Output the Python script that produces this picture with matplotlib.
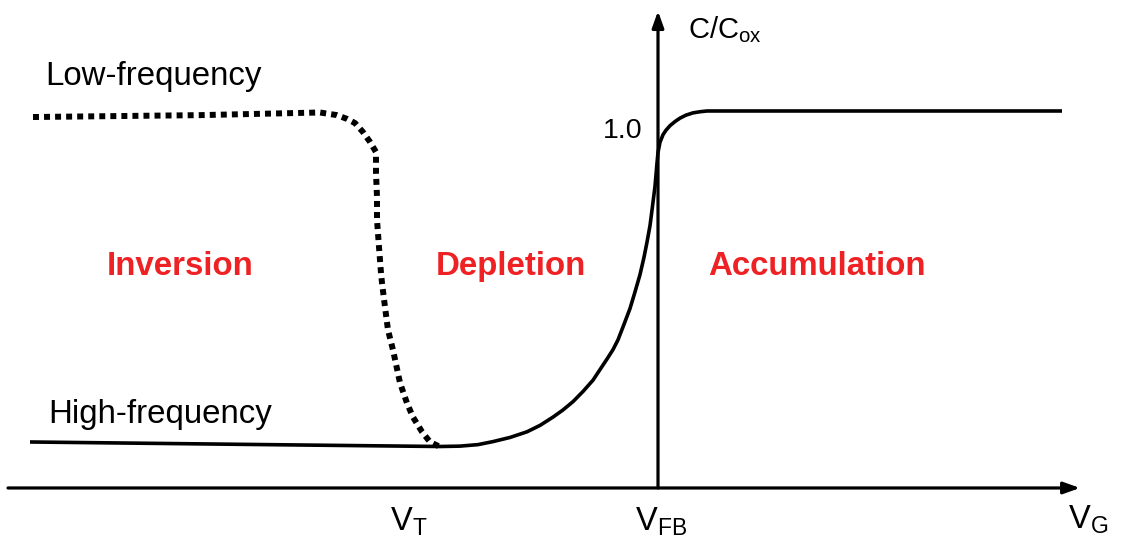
import matplotlib
matplotlib.use("Agg")
import matplotlib.pyplot as plt

plt.rcParams["font.family"] = ["Liberation Sans", "DejaVu Sans"]
plt.rcParams["mathtext.default"] = "regular"

# Gate voltage (V_FB at 0) and normalised capacitance C/Cox
hf_v = [-6.28, -3.58, -2.18, -1.98, -1.80, -1.65, -1.48, -1.31, -1.18, -1.05,
        -0.95, -0.85, -0.75, -0.65, -0.58, -0.51, -0.45, -0.40, -0.34, -0.28,
        -0.23, -0.18, -0.14, -0.11, -0.08, -0.06, -0.03, -0.01, 0.00, 0.02,
        0.05, 0.08, 0.12, 0.17, 0.22, 0.28, 0.35, 0.42, 0.49, 4.04]
hf_c = [0.122, 0.114, 0.110, 0.111, 0.115, 0.123, 0.134, 0.149, 0.166, 0.188,
        0.207, 0.229, 0.256, 0.286, 0.314, 0.342, 0.367, 0.393, 0.434, 0.476,
        0.520, 0.566, 0.612, 0.652, 0.696, 0.737, 0.800, 0.862, 0.890, 0.917,
        0.937, 0.949, 0.961, 0.972, 0.981, 0.989, 0.995, 0.998, 1.000, 1.000]

lf_v = [-6.25, -4.58, -3.38, -3.21, -3.11, -3.03, -2.95, -2.88, -2.82, -2.82,
        -2.81, -2.81, -2.79, -2.77, -2.76, -2.73, -2.70, -2.65, -2.58, -2.51,
        -2.45, -2.36, -2.28, -2.18]
lf_c = [0.984, 0.989, 0.996, 0.989, 0.979, 0.968, 0.944, 0.918, 0.891, 0.836,
        0.772, 0.711, 0.639, 0.570, 0.544, 0.480, 0.419, 0.366, 0.279, 0.225,
        0.188, 0.149, 0.122, 0.109]

regions = ["Inversion", "Depletion", "Accumulation"]
region_v = [-4.78, -1.47, 1.59]
curve_labels = ["Low-frequency", "High-frequency"]
tick_labels = ["V$_{T}$", "V$_{FB}$", "V$_{G}$"]

RED = "#EE2224"

fig = plt.figure(figsize=(11.21, 5.40), dpi=100)
ax = fig.add_axes([0, 0, 1, 1])
ax.set_xlim(-6.58, 4.63)
ax.set_ylim(-0.138, 1.2944)
ax.axis("off")

# axes with arrowheads
arrow = dict(arrowstyle="-|>,head_length=0.7,head_width=0.25", lw=2.3,
             color="black", mutation_scale=14, shrinkA=0, shrinkB=0)
ax.annotate("", xy=(4.22, 0), xytext=(-6.50, 0), arrowprops=arrow)
ax.annotate("", xy=(0, 1.265), xytext=(0, 0), arrowprops=arrow)

# C-V curves
ax.plot(hf_v, hf_c, color="black", lw=2.6, solid_capstyle="butt",
        solid_joinstyle="round")
ax.plot(lf_v, lf_c, color="black", lw=4.3, linestyle=(0, (1, 0.85)),
        dash_capstyle="butt")

# labels
ax.text(-6.13, 1.069, curve_labels[0], fontsize=23.8, ha="left", va="baseline")
ax.text(-6.10, 0.172, curve_labels[1], fontsize=23.8, ha="left", va="baseline")
ax.text(0.30, 1.194, "C/C$_{ox}$", fontsize=21, ha="left", va="baseline")
ax.text(-0.15, 0.928, "1.0", fontsize=20.5, ha="right", va="baseline")

for name, v in zip(regions, region_v):
    ax.text(v, 0.565, name, fontsize=23.8, fontweight="bold", color=RED,
            ha="center", va="baseline")

ax.text(-2.68, -0.112, tick_labels[0], fontsize=23.5, ha="left", va="baseline")
ax.text(-0.23, -0.112, tick_labels[1], fontsize=23.5, ha="left", va="baseline")
ax.text(4.10, -0.108, tick_labels[2], fontsize=23.5, ha="left", va="baseline")

fig.savefig("out.png", dpi=100, facecolor="white")
